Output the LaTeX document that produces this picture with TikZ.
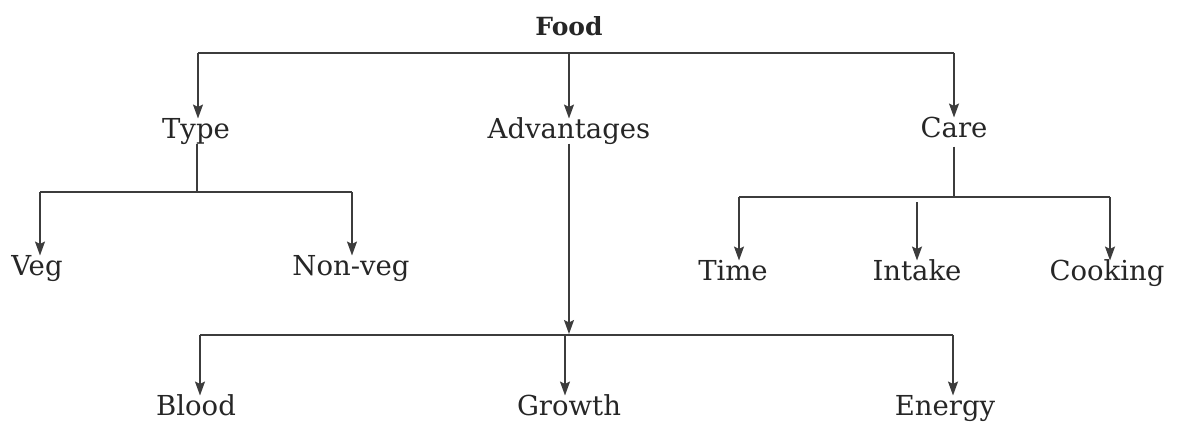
\documentclass[tikz,border=0pt]{standalone}
\usepackage{fontspec}
\setmainfont{DejaVu Serif}
\usetikzlibrary{arrows.meta,calc}
\definecolor{ln}{HTML}{3C3C3C}
\definecolor{tx}{HTML}{262626}
\begin{document}
\begin{tikzpicture}[x=1pt,y=-1pt,
  lbl/.style={anchor=base,font=\fontsize{27.5}{33}\selectfont,text=tx,
    text height=0.73em,text depth=0.24em,inner xsep=0pt,inner ysep=3pt},
  bus/.style={draw=ln,line width=1.7pt},
  arr/.style={draw=ln,line width=1.7pt,-{Stealth[length=14pt,width=10pt,inset=2.5pt]},shorten >=9pt},
  stem/.style={draw=ln,line width=1.7pt}]
\useasboundingbox (0,0) rectangle (1180,423);
% nodes
\node[lbl,font=\fontsize{25}{30}\selectfont\bfseries] (food) at (569,35) {Food};
\node[lbl] (type) at (196,138) {Type};
\node[lbl] (adv) at (569,138) {Advantages};
\node[lbl] (care) at (954,137) {Care};
\node[lbl] (veg) at (37,275) {Veg};
\node[lbl] (nonveg) at (351,275) {Non-veg};
\node[lbl] (time) at (733,280) {Time};
\node[lbl] (intake) at (917,280) {Intake};
\node[lbl] (cooking) at (1107,280) {Cooking};
\node[lbl] (blood) at (196,415) {Blood};
\node[lbl] (growth) at (569,415) {Growth};
\node[lbl] (energy) at (945,415) {Energy};
% top bus
\coordinate (t1) at (198,53);
\coordinate (t2) at (569,53);
\coordinate (t3) at (954,53);
\draw[bus] (t1) -- (t3);
\draw[arr] (t1) -- (t1 |- type.north);
\draw[arr] (t2) -- (t2 |- adv.north);
\draw[arr] (t3) -- (t3 |- care.north);
% type bus
\coordinate (a0) at (197,192);
\coordinate (a1) at (40,192);
\coordinate (a2) at (352,192);
\draw[stem] (type.south -| a0) -- (a0);
\draw[bus] (a1) -- (a2);
\draw[arr] (a1) -- (a1 |- veg.north);
\draw[arr] (a2) -- (a2 |- nonveg.north);
% care bus
\coordinate (c0) at (954,197);
\coordinate (c1) at (739,197);
\coordinate (c2) at (917,202);
\coordinate (c3) at (1110,197);
\draw[stem] ($(care.south -| c0)+(0,4)$) -- (c0);
\draw[bus] (c1) -- (c3);
\draw[arr] (c1) -- (c1 |- time.north);
\draw[arr] (c2) -- (c2 |- intake.north);
\draw[arr] (c3) -- (c3 |- cooking.north);
% advantages bus
\coordinate (d0) at (569,335);
\coordinate (d1) at (200,335);
\coordinate (d2) at (565,335);
\coordinate (d3) at (953,335);
\draw[arr,shorten >=1pt] (adv.south -| d0) -- (d0);
\draw[bus] (d1) -- (d3);
\draw[arr] (d1) -- (d1 |- blood.north);
\draw[arr] (d2) -- (d2 |- growth.north);
\draw[arr] (d3) -- (d3 |- energy.north);
\end{tikzpicture}
\end{document}
